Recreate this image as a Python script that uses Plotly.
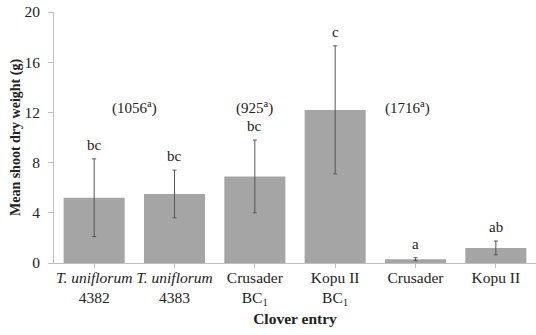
import plotly.graph_objects as go

categories = ["<i>T. uniflorum</i><br>4382", "<i>T. uniflorum</i><br>4383",
              "Crusader<br>BC<sub>1</sub>", "Kopu II<br>BC<sub>1</sub>",
              "Crusader", "Kopu II"]
means = [5.2, 5.5, 6.9, 12.2, 0.3, 1.2]
errors = [3.1, 1.9, 2.9, 5.1, 0.12, 0.55]
letters = ["bc", "bc", "bc", "c", "a", "ab"]
group_labels = ["(1056<sup>a</sup>)", "(925<sup>a</sup>)", "(1716<sup>a</sup>)"]
group_x = [0.5, 2.0, 3.9]
group_y = [12.4, 12.4, 12.4]

FONT = "Liberation Serif, Times New Roman, serif"
xs = list(range(len(categories)))

fig = go.Figure()
fig.add_trace(go.Bar(
    x=xs, y=means, width=0.76,
    marker=dict(color="#a5a5a5", line=dict(width=0)),
    error_y=dict(type="data", array=errors, visible=True,
                 color="#555555", thickness=1, width=2),
))

for i, (m, e, l) in enumerate(zip(means, errors, letters)):
    fig.add_annotation(x=i, y=m + e, text=l, showarrow=False,
                       yanchor="bottom", yshift=4,
                       font=dict(family=FONT, size=15, color="#222"))

for gx, gy, gl in zip(group_x, group_y, group_labels):
    fig.add_annotation(x=gx, y=gy, text=gl, showarrow=False,
                       font=dict(family=FONT, size=15, color="#222"))

fig.update_layout(
    width=536, height=335,
    margin=dict(l=54, r=0, t=12, b=72),
    paper_bgcolor="white", plot_bgcolor="white",
    font=dict(family=FONT, size=15, color="#222"),
    showlegend=False,
    xaxis=dict(tickmode="array", tickvals=xs, ticktext=categories,
               range=[-0.5, 5.5], showline=True, linecolor="#bfbfbf",
               ticks="outside", tickson="boundaries", ticklen=4,
               tickcolor="#bfbfbf", showgrid=False, ticklabelstandoff=-4,
               tickfont=dict(family=FONT, size=15.5, color="#222"),
               title=dict(text="<b>Clover entry</b>", standoff=6,
                          font=dict(family=FONT, size=15.5, color="#222"))),
    yaxis=dict(range=[0, 20], tickvals=[0, 4, 8, 12, 16, 20],
               showline=True, linecolor="#bfbfbf", ticks="outside",
               ticklen=5, tickcolor="#bfbfbf", showgrid=False, zeroline=False,
               ticklabelstandoff=5,
               tickfont=dict(family=FONT, size=15.5, color="#222"),
               title=dict(text="<b>Mean shoot dry weight (g)</b>", standoff=0,
                          font=dict(family=FONT, size=14, color="#222"))),
)

fig.write_html("out.html")
